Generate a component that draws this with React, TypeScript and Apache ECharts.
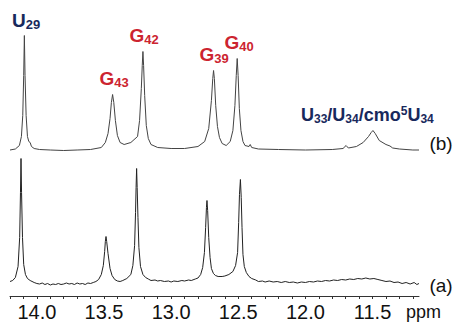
import React, { useEffect, useRef } from "react";
import * as echarts from "echarts";

// ppm, intensity above baseline — trace (b), upper spectrum
const traceB: [number, number][] = [
  [14.2, 0.5], [14.16, 1.5], [14.13, 5], [14.115, 14], [14.105, 35], [14.098, 75], [14.093, 115],
  [14.088, 75], [14.08, 35], [14.07, 14], [14.06, 9], [14.05, 8], [14.04, 4], [14.02, 2],
  [13.98, 1], [13.9, 0.5], [13.8, 0], [13.7, 0.5], [13.6, 1], [13.52, 3],
  [13.49, 8], [13.47, 17], [13.455, 32], [13.445, 48], [13.436, 56], [13.427, 48], [13.415, 30],
  [13.4, 15], [13.38, 8], [13.35, 6], [13.3, 8],
  [13.25, 14], [13.235, 30], [13.222, 62], [13.215, 85], [13.21, 99], [13.205, 85], [13.197, 55],
  [13.185, 25], [13.17, 12], [13.15, 6], [13.1, 3], [13.0, 2], [12.9, 2], [12.8, 4], [12.75, 9],
  [12.72, 22], [12.7, 50], [12.69, 72], [12.684, 80], [12.678, 72], [12.668, 45], [12.655, 24],
  [12.64, 13], [12.62, 7], [12.59, 5], [12.56, 9], [12.54, 20], [12.525, 45], [12.515, 75],
  [12.508, 92], [12.501, 75], [12.492, 42], [12.48, 20], [12.465, 9], [12.45, 5], [12.42, 4],
  [12.411, 6], [12.4, 3], [12.35, 1.5], [12.2, 1], [12.0, 0.5], [11.8, 1], [11.72, 2],
  [11.697, 5], [11.68, 2.5], [11.62, 4], [11.57, 8], [11.53, 14], [11.51, 18], [11.497, 20],
  [11.48, 17], [11.45, 10], [11.4, 6], [11.37, 4.5], [11.35, 2.5], [11.3, 1.5], [11.2, 0.5],
  [11.154, 0.5],
];

// ppm, intensity above baseline — trace (a), lower spectrum
const traceA: [number, number][] = [
  [14.2, 1], [14.18, 2], [14.16, 5], [14.14, 16], [14.128, 45], [14.122, 90], [14.118, 124],
  [14.114, 90], [14.107, 45], [14.098, 18], [14.085, 8], [14.07, 4], [14.05, 2], [14.02, 0],
  [14.0, -1], [13.98, -1.5], [13.96, -0.5], [13.94, -2], [13.92, -1], [13.9, -2.5], [13.88, -1.5],
  [13.86, -2], [13.84, -1], [13.82, -2], [13.8, -1.5], [13.78, -0.5], [13.76, -1.5], [13.74, -1],
  [13.72, -2], [13.7, -0.5], [13.68, -1.5], [13.66, -1], [13.64, -2], [13.62, -0.5], [13.6, -1],
  [13.58, 0], [13.56, 1], [13.54, 3],
  [13.52, 8], [13.505, 17], [13.495, 31], [13.49, 41], [13.485, 46], [13.48, 41], [13.47, 29],
  [13.455, 14], [13.44, 7], [13.42, 3], [13.4, 1.5], [13.38, 1], [13.36, 2], [13.33, 4], [13.3, 8],
  [13.285, 17], [13.272, 37], [13.265, 70], [13.261, 95], [13.257, 114], [13.253, 95], [13.247, 65],
  [13.24, 35], [13.228, 16], [13.21, 8], [13.19, 5], [13.17, 3.5],
  [13.15, 2], [13.12, 2.5], [13.1, 1.5], [13.08, 2], [13.05, 1], [13.02, 1.5], [13.0, 0.5],
  [12.98, 1.5], [12.95, 1], [12.92, 2], [12.9, 1.5], [12.87, 2.5], [12.85, 2], [12.82, 3.5],
  [12.8, 4.5], [12.78, 8], [12.765, 15], [12.752, 30], [12.743, 55], [12.737, 75], [12.733, 82],
  [12.728, 72], [12.72, 45], [12.71, 25], [12.7, 14], [12.685, 9], [12.67, 7], [12.65, 6],
  [12.62, 6], [12.6, 6.5], [12.57, 8], [12.54, 11], [12.52, 17], [12.505, 30], [12.497, 60],
  [12.491, 88], [12.484, 103], [12.478, 85], [12.472, 55], [12.465, 28], [12.455, 16], [12.44, 10],
  [12.42, 6], [12.4, 4], [12.37, 2.5],
  [12.35, 1], [12.32, 1.5], [12.3, 0.5], [12.27, 1.5], [12.24, 0.5], [12.21, 1], [12.18, 0],
  [12.15, 1], [12.12, 0], [12.09, 0.5], [12.06, -0.5], [12.03, 0.5], [12.0, 0], [11.97, 1],
  [11.94, 0.5], [11.91, 1.5], [11.88, 1], [11.85, 2], [11.82, 1.5], [11.79, 2.5], [11.76, 2],
  [11.73, 3], [11.7, 2.5], [11.67, 3.5], [11.64, 3], [11.61, 4], [11.58, 3.5], [11.55, 4.5],
  [11.52, 3.5], [11.49, 4], [11.46, 3], [11.43, 2], [11.4, 1], [11.37, 1.5], [11.34, 0],
  [11.31, 0.5], [11.28, -1], [11.25, 0], [11.22, -1.5], [11.19, 0], [11.17, -2], [11.154, -1],
];

const minorTickValues = [
  11.2, 11.3, 11.4, 11.5, 11.6, 11.7, 11.8, 11.9, 12.0, 12.1, 12.2, 12.3, 12.4, 12.5, 12.6,
  12.7, 12.8, 12.9, 13.0, 13.1, 13.2, 13.3, 13.4, 13.5, 13.6, 13.7, 13.8, 13.9, 14.0, 14.1, 14.2,
];
const tickLabelValues = [11.5, 12.0, 12.5, 13.0, 13.5, 14.0];

const peakLabels = [
  { main: "U", sub: "29", kind: "u" },
  { main: "G", sub: "43", kind: "g" },
  { main: "G", sub: "42", kind: "g" },
  { main: "G", sub: "39", kind: "g" },
  { main: "G", sub: "40", kind: "g" },
];
const groupLabel = "{m|U}{s|33}{m|/U}{s|34}{m|/cmo}{p|5}{m|U}{s|34}";
const traceNames = ["(a)", "(b)"];
const unitLabel = "ppm";

const NAVY = "#18295c";
const RED = "#cc2430";
const FONT = "'Liberation Sans', Arial, Helvetica, sans-serif";

const offsetA = 13.5;
const offsetB = 145.5;

function rich(color: string, big: number, small: number) {
  return {
    m: { fontSize: big, fontWeight: "bold", fontFamily: FONT, fill: color, verticalAlign: "middle" },
    s: { fontSize: small, fontWeight: "bold", fontFamily: FONT, fill: color, verticalAlign: "middle", padding: [8, 0, 0, 0] },
    p: { fontSize: small, fontWeight: "bold", fontFamily: FONT, fill: color, verticalAlign: "middle", padding: [0, 0, 8, 0] },
  };
}

export default function App() {
  const ref = useRef<HTMLDivElement>(null);
  useEffect(() => {
    if (!ref.current) return;
    const chart = echarts.init(ref.current, undefined, { renderer: "svg" });
    const labelPos = [
      [12, 20],
      [99.5, 78.5],
      [129.5, 35],
      [199.5, 54],
      [224.5, 42.5],
    ];
    const graphics: any[] = peakLabels.map((l, i) => {
      const color = l.kind === "u" ? NAVY : RED;
      return {
        type: "text",
        x: labelPos[i][0],
        y: labelPos[i][1],
        style: {
          text: `{m|${l.main}}{s|${l.sub}}`,
          rich: rich(color, 19, 13),
          align: "left",
          verticalAlign: "middle",
        },
      };
    });
    graphics.push({
      type: "text",
      x: 301,
      y: 114.5,
      style: { text: groupLabel, rich: rich(NAVY, 18, 12), align: "left", verticalAlign: "middle" },
    });
    graphics.push({
      type: "text",
      x: 441,
      y: 285,
      style: { text: traceNames[0], font: `19px ${FONT}`, fill: "#111", align: "center", verticalAlign: "middle" },
    });
    graphics.push({
      type: "text",
      x: 441,
      y: 143,
      style: { text: traceNames[1], font: `19px ${FONT}`, fill: "#111", align: "center", verticalAlign: "middle" },
    });
    graphics.push({
      type: "text",
      x: 423.5,
      y: 312,
      style: { text: unitLabel, font: `18px ${FONT}`, fill: "#111", align: "center", verticalAlign: "middle" },
    });

    chart.setOption({
      animation: false,
      grid: { left: 10, right: 37, top: 0, bottom: 26 },
      xAxis: {
        type: "value",
        min: 11.154,
        max: 14.2,
        inverse: true,
        axisLine: { show: true, lineStyle: { color: "#333", width: 1 } },
        axisTick: { show: true, length: 3, inside: false, customValues: minorTickValues, lineStyle: { color: "#333" } },
        axisLabel: {
          show: true,
          customValues: tickLabelValues,
          formatter: (v: number) => v.toFixed(1),
          fontSize: 20,
          fontFamily: FONT,
          color: "#111",
          margin: 6,
        },
        splitLine: { show: false },
      },
      yAxis: { type: "value", min: 0, max: 296, show: false },
      graphic: graphics,
      series: [
        {
          type: "line",
          data: traceA.map(([x, y]) => [x, y + offsetA]),
          showSymbol: false,
          symbol: "none",
          lineStyle: { color: "#222", width: 1 },
          clip: true,
        },
        {
          type: "line",
          data: traceB.map(([x, y]) => [x, y + offsetB]),
          showSymbol: false,
          symbol: "none",
          lineStyle: { color: "#444", width: 1 },
          clip: true,
        },
      ],
    });
    return () => chart.dispose();
  }, []);
  return <div ref={ref} style={{ width: 456, height: 322, position: "absolute", left: 0, top: 0 }} />;
}
